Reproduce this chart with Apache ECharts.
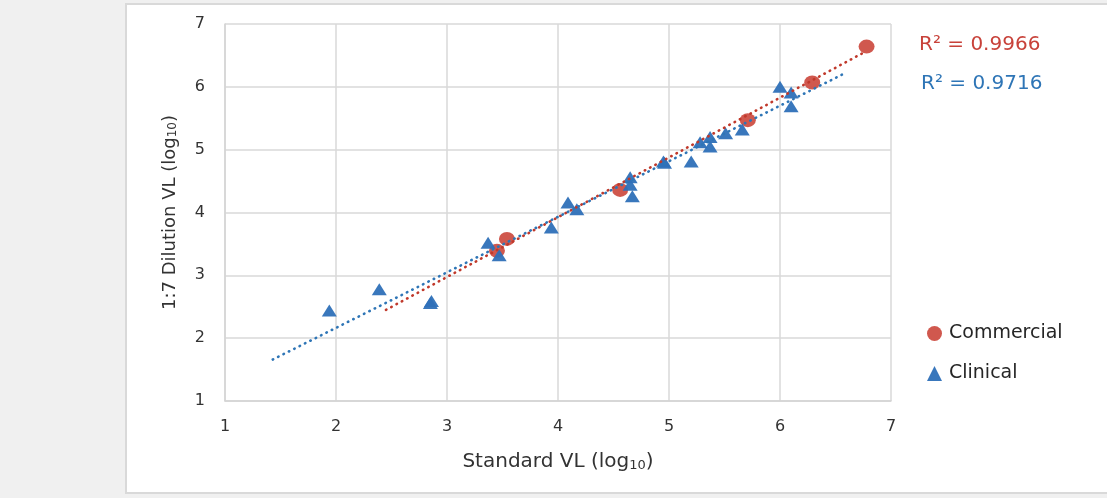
<!DOCTYPE html>
<html>
<head>
<meta charset="utf-8">
<script src="https://cdn.jsdelivr.net/npm/echarts@6/dist/echarts.min.js"></script>
<style>
  html, body { margin: 0; padding: 0; background: #f0f0f0; }
  #chart { width: 1107px; height: 498px; }
</style>
</head>
<body>
<div id="chart"></div>
<script>
// ---- data ----
const commercialX = [3.45, 3.54, 4.56, 5.71, 6.29, 6.78];
const commercialY = [3.39, 3.58, 4.36, 5.47, 6.07, 6.64];

const clinicalX = [1.94, 2.39, 2.85, 2.86, 3.37, 3.47, 3.94, 4.09, 4.17, 4.65, 4.65, 4.67, 4.95, 4.96, 5.20, 5.28, 5.37, 5.37, 5.51, 5.66, 6.00, 6.10, 6.10];
const clinicalY = [2.44, 2.78, 2.56, 2.59, 3.52, 3.32, 3.76, 4.16, 4.05, 4.56, 4.44, 4.26, 4.81, 4.79, 4.81, 5.12, 5.20, 5.05, 5.26, 5.32, 6.00, 5.91, 5.69];

// trendline end points (as drawn in the reference)
const commercialTrendX = [2.45, 6.78];
const commercialTrendY = [2.45, 6.57];
const clinicalTrendX = [1.43, 6.60];
const clinicalTrendY = [1.66, 6.23];

const commercialR2 = 'R² = 0.9966';
const clinicalR2 = 'R² = 0.9716';

const axisTicks = [1, 2, 3, 4, 5, 6, 7];
const seriesNames = ['Commercial', 'Clinical'];

// ---- build ----
const zip = (xs, ys) => xs.map((x, i) => [x, ys[i]]);
const FONT = 'DejaVu Sans';
const RED = '#cd4f45';
const BLUE = '#2e70b8';

const chart = echarts.init(document.getElementById('chart'));
const axisCommon = {
  type: 'value',
  min: axisTicks[0],
  max: axisTicks[axisTicks.length - 1],
  interval: 1,
  axisTick: { show: false },
  axisLine: { show: true, lineStyle: { color: '#d4d4d4', width: 1.5 } },
  splitLine: { show: true, lineStyle: { color: '#d9d9d9', width: 1.5 } },
  axisLabel: { fontFamily: FONT, fontSize: 16, color: '#333333' },
  nameLocation: 'middle'
};

chart.setOption({
  backgroundColor: 'transparent',
  animation: false,
  graphic: [
    {
      type: 'rect', z: -10, silent: true,
      shape: { x: 126, y: 4, width: 1000, height: 489 },
      style: { fill: '#ffffff', stroke: '#d9d9d9', lineWidth: 2 }
    },
    {
      type: 'text', left: 919, top: 35,
      style: { text: commercialR2, fill: '#c8423a', font: '20px "DejaVu Sans"' }
    },
    {
      type: 'text', left: 921, top: 74,
      style: { text: clinicalR2, fill: '#2e75b6', font: '20px "DejaVu Sans"' }
    }
  ],
  grid: { left: 225, top: 24, right: 216, bottom: 97, containLabel: false },
  legend: {
    orient: 'vertical',
    left: 922, top: 318,
    itemWidth: 15, itemHeight: 15,
    itemGap: 19,
    data: [
      { name: seriesNames[0], icon: 'circle' },
      { name: seriesNames[1], icon: 'triangle' }
    ],
    textStyle: { fontFamily: FONT, fontSize: 19, color: '#262626', lineHeight: 21, padding: [0, 0, 0, 2] }
  },
  xAxis: Object.assign({}, axisCommon, {
    axisLabel: Object.assign({}, axisCommon.axisLabel, { margin: 18 }),
    name: '{t|Standard VL (log}{s|10}{t|)}',
    nameGap: 47,
    nameTextStyle: {
      rich: {
        t: { fontFamily: FONT, fontSize: 20, color: '#333333', verticalAlign: 'bottom', lineHeight: 24 },
        s: { fontFamily: FONT, fontSize: 13, color: '#333333', verticalAlign: 'bottom', lineHeight: 11 }
      }
    }
  }),
  yAxis: Object.assign({}, axisCommon, {
    axisLabel: Object.assign({}, axisCommon.axisLabel, { margin: 20 }),
    name: '{t|1:7 Dilution VL (log}{s|10}{t|)}',
    nameGap: 46,
    nameRotate: 90,
    nameTextStyle: {
      rich: {
        t: { fontFamily: FONT, fontSize: 18, color: '#333333', verticalAlign: 'bottom', lineHeight: 22 },
        s: { fontFamily: FONT, fontSize: 12, color: '#333333', verticalAlign: 'bottom', lineHeight: 10 }
      }
    }
  }),
  series: [
    {
      name: seriesNames[0],
      type: 'scatter',
      symbol: 'circle',
      symbolSize: [16, 14],
      itemStyle: { color: RED, opacity: 0.95 },
      data: zip(commercialX, commercialY),
      z: 3
    },
    {
      name: seriesNames[1],
      type: 'scatter',
      symbol: 'triangle',
      symbolSize: [15, 12],
      itemStyle: { color: BLUE, opacity: 0.95 },
      data: zip(clinicalX, clinicalY),
      z: 3
    },
    {
      name: 'Commercial trend',
      type: 'line',
      showSymbol: false,
      symbol: 'none',
      silent: true,
      lineStyle: { color: '#c0392b', width: 2.6, type: [0.5, 5.5], cap: 'round' },
      data: zip(commercialTrendX, commercialTrendY),
      z: 5
    },
    {
      name: 'Clinical trend',
      type: 'line',
      showSymbol: false,
      symbol: 'none',
      silent: true,
      lineStyle: { color: '#2e75b6', width: 2.6, type: [0.5, 5.5], cap: 'round' },
      data: zip(clinicalTrendX, clinicalTrendY),
      z: 5
    }
  ]
});
</script>
</body>
</html>
